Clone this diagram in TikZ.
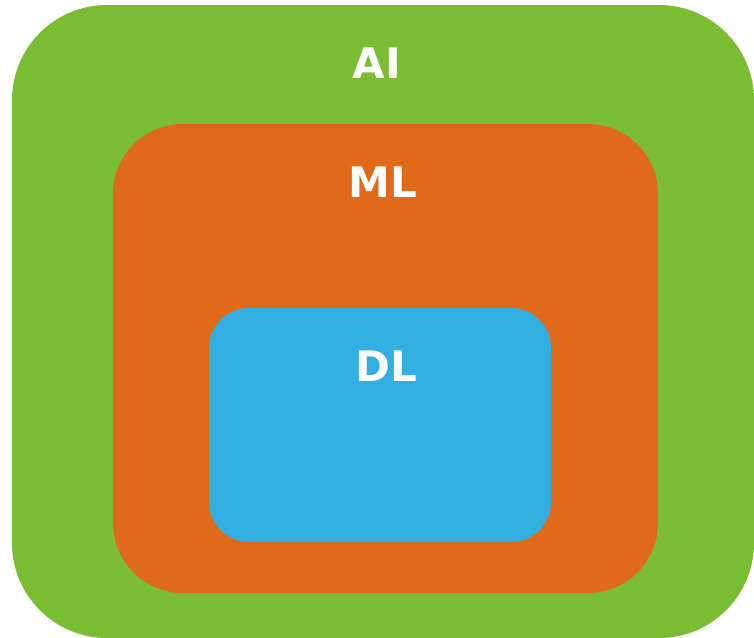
\documentclass[tikz,border=0pt]{standalone}
\usepackage{fontspec}
\setmainfont{DejaVu Sans}
\definecolor{aigreen}{HTML}{7ABD33}
\definecolor{mlorange}{HTML}{E06A1A}
\definecolor{dlblue}{HTML}{30AFE0}
\begin{document}
\begin{tikzpicture}[x=1pt,y=-1pt,
  label text/.style={text=white,font=\fontsize{42}{46}\selectfont\bfseries,inner sep=0pt,anchor=center}]
\useasboundingbox (0,0) rectangle (754,637);
% nested rounded regions
\fill[aigreen,rounded corners=95pt] (12,5) rectangle (754,638);
\fill[mlorange,rounded corners=70pt] (113,124) rectangle (658,593);
\fill[dlblue,rounded corners=40pt] (209,308) rectangle (551,542);
% labels
\node[label text] (ai) at (377,63) {AI};
\node[label text] (ml) at (383,182) {ML};
\node[label text] (dl) at (386,366) {DL};
\end{tikzpicture}
\end{document}
